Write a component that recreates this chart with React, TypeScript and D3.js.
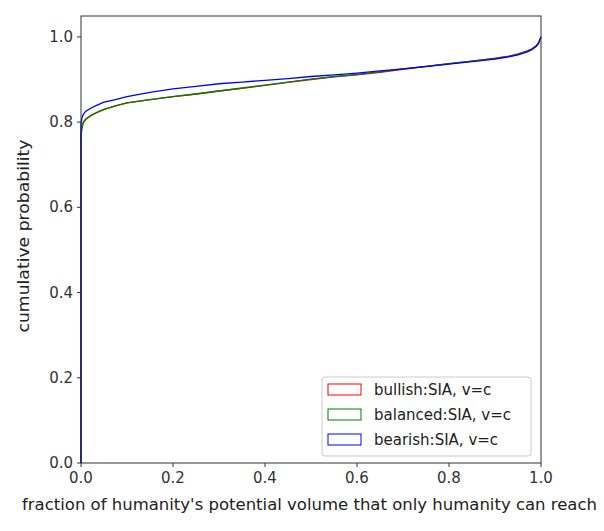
import React from "react";
import * as d3 from "d3";

const xs = [0, 0.002, 0.005, 0.01, 0.02, 0.035, 0.05, 0.075, 0.1, 0.15, 0.2, 0.25, 0.3, 0.35, 0.4, 0.45, 0.5, 0.55, 0.6, 0.65, 0.7, 0.75, 0.8, 0.85, 0.9, 0.93, 0.95, 0.97, 0.98, 0.99, 0.995, 1.0];
const bullish = [0.775, 0.79, 0.8, 0.807, 0.815, 0.823, 0.83, 0.838, 0.845, 0.853, 0.86, 0.866, 0.873, 0.879, 0.886, 0.893, 0.9, 0.906, 0.911, 0.917, 0.924, 0.931, 0.937, 0.943, 0.95, 0.955, 0.96, 0.967, 0.972, 0.98, 0.987, 1.0];
const balanced = [0.765, 0.785, 0.798, 0.806, 0.814, 0.823, 0.83, 0.838, 0.845, 0.853, 0.86, 0.866, 0.873, 0.88, 0.887, 0.894, 0.901, 0.907, 0.912, 0.918, 0.925, 0.931, 0.937, 0.943, 0.949, 0.954, 0.959, 0.966, 0.971, 0.979, 0.986, 1.0];
const bearish = [0.795, 0.81, 0.818, 0.825, 0.832, 0.84, 0.847, 0.853, 0.86, 0.87, 0.878, 0.884, 0.89, 0.894, 0.898, 0.902, 0.907, 0.911, 0.915, 0.92, 0.925, 0.93, 0.936, 0.942, 0.948, 0.953, 0.958, 0.965, 0.97, 0.978, 0.985, 1.0];
const labels = ["bullish:SIA, v=c", "balanced:SIA, v=c", "bearish:SIA, v=c"];
const colors = ["red", "green", "blue"];
const ticks = [0, 0.2, 0.4, 0.6, 0.8, 1.0];

export default function App() {
  const L = 81, R = 541, T = 16, B = 463;
  const x = d3.scaleLinear().domain([0, 1]).range([L, R]);
  const y = d3.scaleLinear().domain([0, 1.049]).range([B, T]);
  const line = d3.line<[number, number]>().x(d => x(d[0])).y(d => y(d[1]));
  const series = [bullish, balanced, bearish];
  const font = "DejaVu Sans";
  const fs = 15;
  return (
    <svg width={604} height={531} style={{ position: "absolute", left: 0, top: 0 }} fontFamily={font}>
      <rect width={604} height={531} fill="white" />
      {series.map((s, i) => {
        const pts: [number, number][] = [[0, 0], ...xs.map((v, j) => [v, s[j]] as [number, number])];
        return <path key={i} d={line(pts) || ""} fill="none" stroke={colors[i]} strokeWidth={1.3} />;
      })}
      <rect x={L} y={T} width={R - L} height={B - T} fill="none" stroke="#333" strokeWidth={1} />
      {ticks.map(t => (
        <g key={"x" + t}>
          <line x1={x(t)} x2={x(t)} y1={B} y2={B + 4} stroke="#333" />
          <text x={x(t)} y={B + 20} textAnchor="middle" fontSize={fs} fill="#333">{t.toFixed(1)}</text>
        </g>
      ))}
      {ticks.map(t => (
        <g key={"y" + t}>
          <line x1={L - 4} x2={L} y1={y(t)} y2={y(t)} stroke="#333" />
          <text x={L - 8} y={y(t) + 5} textAnchor="end" fontSize={fs} fill="#333">{t.toFixed(1)}</text>
        </g>
      ))}
      <text x={309.5} y={510} textAnchor="middle" fontSize={fs} textLength={575} lengthAdjust="spacingAndGlyphs" fill="#222">fraction of humanity's potential volume that only humanity can reach</text>
      <text transform={`translate(29,${236}) rotate(-90)`} textAnchor="middle" fontSize={fs} textLength={193} lengthAdjust="spacingAndGlyphs" fill="#222">cumulative probability</text>
      <rect x={322} y={377} width={209} height={79} rx={3} fill="white" fillOpacity={0.8} stroke="#ccc" />
      {labels.map((l, i) => (
        <g key={l}>
          <rect x={328} y={384 + i * 25} width={33} height={11} fill="none" stroke={colors[i]} />
          <text x={374} y={395 + i * 25} fontSize={fs} fill="#222">{l}</text>
        </g>
      ))}
    </svg>
  );
}
